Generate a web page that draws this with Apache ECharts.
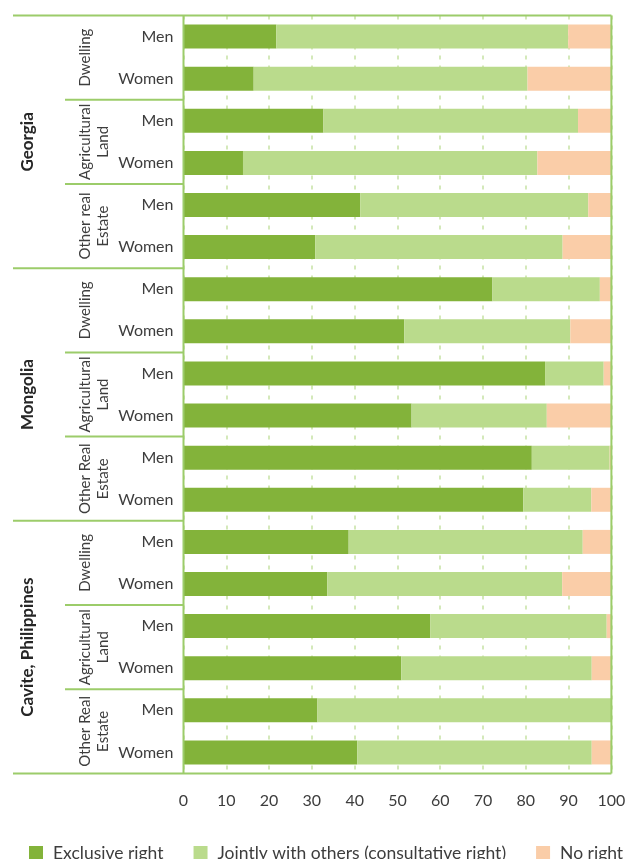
<!DOCTYPE html>
<html>
<head>
<meta charset="utf-8">
<script src="https://cdn.jsdelivr.net/npm/echarts/dist/echarts.min.js"></script>
<style>
  html, body { margin: 0; padding: 0; background: #ffffff; }
  #chart { width: 625px; height: 859px; }
</style>
</head>
<body>
<div id="chart"></div>
<script>
// Country groups, asset groups inside each country, and the sex rows inside each asset
const countries = ['Georgia', 'Mongolia', 'Cavite, Philippines'];
const assetLabels = [
  ['Dwelling', 'Agricultural\nLand', 'Other real\nEstate'],
  ['Dwelling', 'Agricultural\nLand', 'Other Real\nEstate'],
  ['Dwelling', 'Agricultural\nLand', 'Other Real\nEstate']
];
const sexes = ['Men', 'Women'];

// Share of people (%) by decision right, one value per row (top to bottom)
const exclusiveRight = [21.7, 16.4, 32.7, 13.9, 41.3, 30.8,
                        72.2, 51.6, 84.5, 53.3, 81.4, 79.4,
                        38.6, 33.6, 57.7, 50.9, 31.3, 40.6];
const jointRight     = [68.2, 64.0, 59.5, 68.8, 53.3, 57.8,
                        25.1, 38.8, 13.7, 31.6, 18.2, 15.9,
                        54.7, 54.9, 41.2, 44.5, 68.7, 54.8];
const noRight        = [10.1, 19.6, 7.8, 17.3, 5.4, 11.4,
                        2.7, 9.6, 1.8, 15.1, 0.4, 4.7,
                        6.7, 11.5, 1.1, 4.6, 0.0, 4.6];

const seriesNames = ['Exclusive right', 'Jointly with others (consultative right)', 'No right'];
const xTicks = [0, 10, 20, 30, 40, 50, 60, 70, 80, 90, 100];

const rowLabels = [];
countries.forEach(() => assetLabels[0].forEach(() => sexes.forEach(s => rowLabels.push(s))));

const FONT = 'Lato';
const TEXT = '#3d3d3d';
const FRAME = '#9ccc6a';
const COLORS = ['#83b33a', '#badb8c', '#facda8'];

const chart = echarts.init(document.getElementById('chart'), null, { renderer: 'canvas' });

const option = {
  animation: false,
  backgroundColor: '#ffffff',
  textStyle: { fontFamily: FONT },
  grid: {
    left: 183.5, right: 13.6, top: 15.5, bottom: 85.5,
    containLabel: false, outerBoundsMode: 'none'
  },
  xAxis: {
    type: 'value',
    min: xTicks[0],
    max: xTicks[xTicks.length - 1],
    interval: xTicks[1] - xTicks[0],
    axisLine: { show: false },
    axisTick: { show: false },
    axisLabel: { color: TEXT, fontSize: 16, fontFamily: FONT, margin: 19 },
    splitLine: { show: true, lineStyle: { color: '#c6e2a4', width: 1.5, type: [4, 6] } }
  },
  yAxis: {
    type: 'category',
    inverse: true,
    data: rowLabels,
    axisLine: { show: false },
    axisTick: { show: false },
    axisLabel: { color: TEXT, fontSize: 16, fontFamily: FONT, margin: 10 },
    splitLine: { show: false }
  },
  legend: {
    left: 29,
    top: 844,
    width: 700,
    padding: 0,
    itemWidth: 14,
    itemHeight: 14,
    itemGap: 30,
    icon: 'rect',
    textStyle: { color: TEXT, fontSize: 17.5, lineHeight: 14, fontFamily: FONT, padding: [0, 0, 0, 5] },
    data: seriesNames
  },
  series: [exclusiveRight, jointRight, noRight].map((vals, i) => ({
    name: seriesNames[i],
    type: 'bar',
    stack: 'rights',
    barWidth: 24,
    itemStyle: { color: COLORS[i] },
    emphasis: { disabled: true },
    data: vals
  }))
};

chart.setOption(option);

// Group labels, separators and frame, positioned from the axes
function buildDecorations() {
  const y0 = chart.convertToPixel({ yAxisIndex: 0 }, 0);
  const y1 = chart.convertToPixel({ yAxisIndex: 0 }, 1);
  const band = y1 - y0;
  const rowTop = i => y0 - band / 2 + i * band;
  const xL = chart.convertToPixel({ xAxisIndex: 0 }, xTicks[0]);
  const xR = chart.convertToPixel({ xAxisIndex: 0 }, xTicks[xTicks.length - 1]);
  const lineStyle = { stroke: FRAME, lineWidth: 2 };
  const els = [];
  const line = (x1, ya, x2, yb) => els.push({
    type: 'line', z: 10, silent: true,
    shape: { x1: x1, y1: ya, x2: x2, y2: yb }, style: lineStyle
  });

  const rowsPerAsset = sexes.length;
  const rowsPerCountry = rowsPerAsset * assetLabels[0].length;
  const nRows = rowLabels.length;

  // outer frame of the plot
  line(13, rowTop(0), xR, rowTop(0));
  line(13, rowTop(nRows), xR, rowTop(nRows));
  line(xL, rowTop(0), xL, rowTop(nRows));
  line(xR, rowTop(0), xR, rowTop(nRows));

  countries.forEach((c, ci) => {
    const r0 = ci * rowsPerCountry;
    if (ci > 0) line(13, rowTop(r0), xL, rowTop(r0));
    els.push({
      type: 'text', z: 10, silent: true,
      x: 28, y: (rowTop(r0) + rowTop(r0 + rowsPerCountry)) / 2,
      rotation: Math.PI / 2,
      style: {
        text: c, fill: '#262626', fontFamily: FONT, fontWeight: 'bold', fontSize: 17,
        align: 'center', verticalAlign: 'middle'
      }
    });
    assetLabels[ci].forEach((a, ai) => {
      const a0 = r0 + ai * rowsPerAsset;
      if (ai > 0) line(65, rowTop(a0), xL, rowTop(a0));
      els.push({
        type: 'text', z: 10, silent: true,
        x: 76, y: (rowTop(a0) + rowTop(a0 + rowsPerAsset)) / 2,
        rotation: Math.PI / 2,
        style: {
          text: a, fill: TEXT, fontFamily: FONT, fontSize: 15, lineHeight: 18,
          align: 'center', verticalAlign: 'top'
        }
      });
    });
  });
  chart.setOption({ graphic: els });
}
buildDecorations();
</script>
</body>
</html>
